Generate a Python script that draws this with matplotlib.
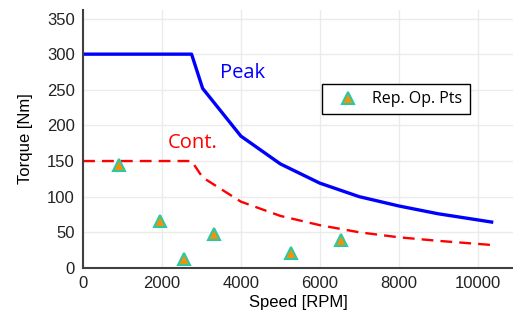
import matplotlib.pyplot as plt

# peak torque curve
peak_speed = [0, 2750, 3030, 4000, 5000, 6000, 7000, 8000, 9000, 10400]
peak_torque = [300, 300, 252, 185, 146, 119, 100, 87, 76, 64]

# continuous torque curve
cont_speed = [0, 2750, 3030, 4000, 5000, 6000, 7000, 8000, 9000, 10400]
cont_torque = [150, 150, 127, 93, 73, 60, 50, 43, 38, 32]

# representative operating points
op_speed = [920, 1960, 2570, 3310, 5270, 6540]
op_torque = [145, 66, 12, 48, 21, 39]

plt.rcParams['font.family'] = ['Liberation Sans', 'DejaVu Sans']

fig = plt.figure(figsize=(5.13, 3.22), dpi=100)
ax = fig.add_axes([0.162, 0.168, 0.838, 0.801])

ax.plot(peak_speed, peak_torque, color='#0000ff', lw=2.4, solid_capstyle='butt')
ax.plot(cont_speed, cont_torque, color='#ff0000', lw=1.7, dashes=(5, 3))
ax.plot(op_speed, op_torque, ls='none', marker='^', markersize=9,
        markerfacecolor='#f5900a', markeredgecolor='#2bc9a0', markeredgewidth=1.5,
        label='Rep. Op. Pts')

ax.text(3460, 273, 'Peak', color='#0000ff', fontsize=14.5, family='Open Sans', va='center')
ax.text(2140, 175, 'Cont.', color='#ff0000', fontsize=14.5, family='Open Sans', va='center')

leg = ax.legend(loc='upper left', bbox_to_anchor=(0.556, 0.713), borderaxespad=0,
                fancybox=False, edgecolor='black', framealpha=1,
                prop={'family': 'Open Sans', 'size': 11.5},
                handletextpad=0.4, borderpad=0.45, handlelength=2.3)
leg.get_frame().set_linewidth(1.0)

ax.set_xlim(0, 10900)
ax.set_ylim(0, 362)
ax.set_xticks([0, 2000, 4000, 6000, 8000, 10000])
ax.set_yticks(range(0, 351, 50))
ax.grid(True, color='#ebebeb', lw=1)
ax.set_axisbelow(True)
for s in ['top', 'right']:
    ax.spines[s].set_visible(False)
for s in ['left', 'bottom']:
    ax.spines[s].set_color('#404040')
    ax.spines[s].set_linewidth(1.5)
ax.tick_params(length=0, labelsize=12, pad=6, colors='#222222')
ax.set_xlabel('Speed [RPM]', fontsize=12, labelpad=3)
ax.set_ylabel('Torque [Nm]', fontsize=12, labelpad=10)

fig.savefig('out.png', dpi=100)
